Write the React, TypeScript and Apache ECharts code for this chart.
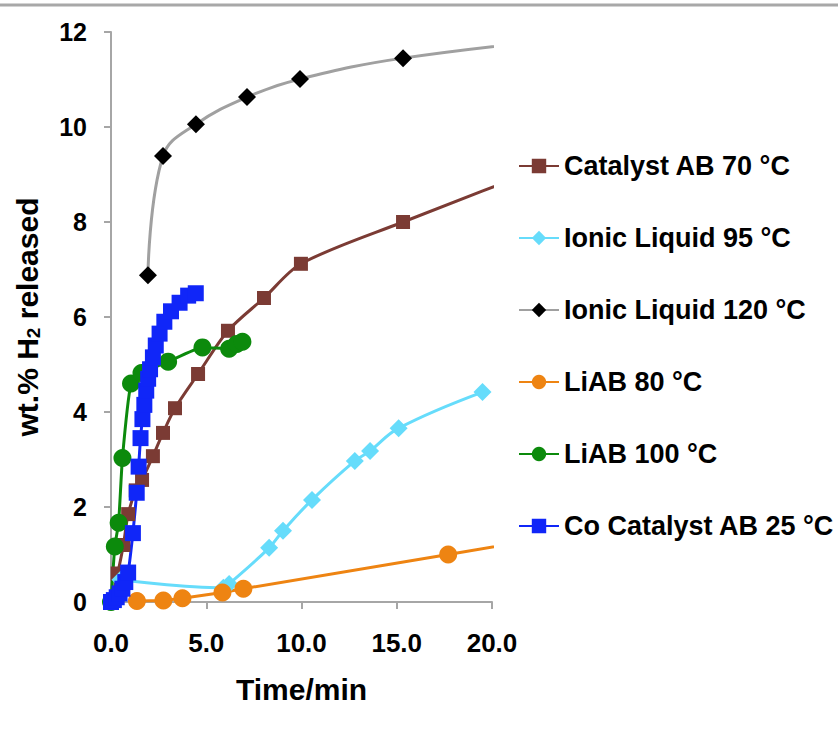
import React, { useEffect, useRef } from "react";
import * as echarts from "echarts";

// Time (min) vs wt.% H2 released
const catalystAB70: [number, number][] = [
  [0, 0], [0.35, 0.6], [0.65, 1.2], [0.9, 1.85], [1.3, 2.35], [1.63, 2.57], [2.2, 3.07], [2.73, 3.56],
  [3.36, 4.08], [4.57, 4.8], [6.14, 5.71], [8.03, 6.4], [9.97, 7.12], [15.33, 8.0], [25, 9.5],
];
const ionicLiquid95: [number, number][] = [
  [0.5, 0.47], [5.9, 0.3], [6.2, 0.38], [8.3, 1.14], [9.03, 1.5], [10.55, 2.15], [12.8, 2.97],
  [13.6, 3.18], [15.1, 3.66], [19.5, 4.42],
];
const ionicLiquid120: [number, number][] = [
  [1.94, 6.88], [2.73, 9.39], [4.46, 10.06], [7.14, 10.63], [9.92, 11.01], [15.33, 11.45], [25, 11.9],
];
const liab80: [number, number][] = [
  [1.36, 0.02], [2.75, 0.03], [3.75, 0.08], [5.85, 0.2], [6.95, 0.28], [17.7, 1.0], [25, 1.5],
];
const liab100: [number, number][] = [
  [0, 0], [0.2, 1.17], [0.4, 1.67], [0.6, 3.03], [1.05, 4.6], [1.6, 4.82], [3.0, 5.06],
  [4.8, 5.36], [6.2, 5.33], [6.6, 5.43], [6.9, 5.48],
];
const coCatalystAB25: [number, number][] = [
  [0, 0], [0.15, 0.04], [0.3, 0.1], [0.45, 0.18], [0.6, 0.28], [0.75, 0.42], [0.9, 0.62],
  [1.15, 1.45], [1.35, 2.3], [1.45, 2.85], [1.55, 3.45], [1.65, 3.85], [1.75, 4.15], [1.85, 4.45],
  [1.95, 4.7], [2.05, 4.9], [2.2, 5.15], [2.35, 5.4], [2.55, 5.65], [2.8, 5.9], [3.15, 6.12],
  [3.6, 6.3], [4.05, 6.45], [4.45, 6.5],
];

const seriesNames = [
  "Catalyst AB 70 °C",
  "Ionic Liquid 95 °C",
  "Ionic Liquid 120 °C",
  "LiAB 80 °C",
  "LiAB 100 °C",
  "Co Catalyst AB 25 °C",
];
const xTicks = [0, 5, 10, 15, 20];
const yTicks = [0, 2, 4, 6, 8, 10, 12];

const FONT = "'Liberation Sans', Arial, sans-serif";

export default function App() {
  const ref = useRef<HTMLDivElement>(null);
  useEffect(() => {
    if (!ref.current) return;
    document.body.style.margin = "0";
    const chart = echarts.init(ref.current, undefined, { renderer: "svg" });
    const mk = (
      name: string,
      data: [number, number][],
      color: string,
      symbol: string,
      size: number,
      smooth: number | boolean,
      lineColor?: string
    ) => ({
      name,
      type: "line",
      data,
      symbol,
      symbolSize: size,
      smooth,
      clip: true,
      lineStyle: { color: lineColor || color, width: 3 },
      itemStyle: { color },
      z: 2,
    });
    chart.setOption({
      animation: false,
      backgroundColor: "#fff",
      textStyle: { fontFamily: FONT },
      grid: { left: 111, right: 346, top: 32, bottom: 130, containLabel: false },
      xAxis: {
        type: "value",
        min: xTicks[0],
        max: xTicks[xTicks.length - 1],
        interval: 5,
        name: "Time/min",
        nameLocation: "middle",
        nameGap: 72,
        nameTextStyle: { fontSize: 30, fontWeight: "bold", color: "#000", fontFamily: FONT },
        axisLine: { lineStyle: { color: "#a6a6a6", width: 2 } },
        axisTick: { show: true, length: 7, lineStyle: { color: "#a6a6a6", width: 2 } },
        axisLabel: {
          fontSize: 26,
          fontWeight: "bold",
          color: "#000",
          margin: 28,
          fontFamily: FONT,
          formatter: (v: number) => v.toFixed(1),
        },
        splitLine: { show: false },
      },
      yAxis: {
        type: "value",
        min: yTicks[0],
        max: yTicks[yTicks.length - 1],
        interval: 2,
        name: "wt.% H{sub|2} released",
        nameLocation: "middle",
        nameGap: 68,
        nameTextStyle: {
          fontSize: 30,
          fontWeight: "bold",
          color: "#000",
          fontFamily: FONT,
          rich: {
            sub: { fontSize: 19, fontWeight: "bold", color: "#000", fontFamily: FONT, verticalAlign: "bottom", padding: [12, 0, 0, 0] },
          },
        },
        axisLine: { show: true, lineStyle: { color: "#a6a6a6", width: 2 } },
        axisTick: { show: true, length: 7, lineStyle: { color: "#a6a6a6", width: 2 } },
        axisLabel: { fontSize: 25, fontWeight: "bold", color: "#000", margin: 24, fontFamily: FONT },
        splitLine: { show: false },
      },
      legend: {
        orient: "vertical",
        left: 513,
        top: 146,
        itemWidth: 40,
        itemHeight: 18,
        itemGap: 42,
        data: seriesNames,
        textStyle: { fontSize: 27, fontWeight: "bold", color: "#000", fontFamily: FONT, lineHeight: 30 },
      },
      graphic: [
        {
          type: "line",
          shape: { x1: 0, y1: 5, x2: 838, y2: 5 },
          style: { stroke: "#a8a8a8", lineWidth: 3 },
        },
      ],
      series: [
        mk(seriesNames[0], catalystAB70, "#7b3b34", "rect", 14, 0.3),
        mk(seriesNames[1], ionicLiquid95, "#66dcfb", "diamond", 18, 0.4),
        mk(seriesNames[2], ionicLiquid120, "#000000", "diamond", 18, 0.4, "#a0a0a0"),
        mk(seriesNames[3], liab80, "#ee8412", "circle", 18, false),
        mk(seriesNames[4], liab100, "#0c8a0c", "circle", 18, 0.15),
        mk(seriesNames[5], coCatalystAB25, "#1026f8", "rect", 16, 0.2),
      ],
    });
    return () => chart.dispose();
  }, []);
  return <div ref={ref} style={{ width: 838, height: 732 }} />;
}
